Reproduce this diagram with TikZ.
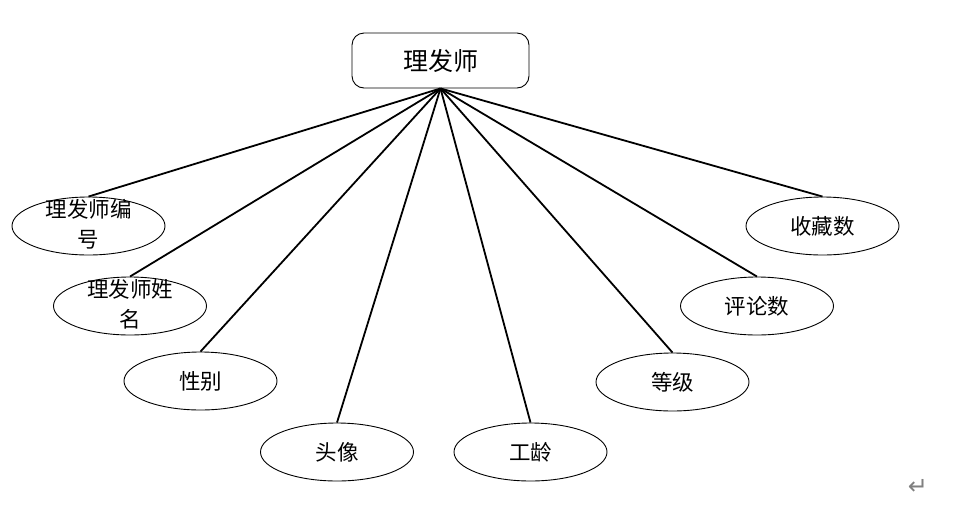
\documentclass[tikz,border=0pt]{standalone}
\usepackage{fontspec}
\newfontfamily\cjk{Noto Sans CJK SC}[Scale=1]
\newfontfamily\symb{DejaVu Sans}
\usetikzlibrary{shapes.geometric}

\begin{document}
\begin{tikzpicture}[x=1pt,y=-1pt,
		ent/.style={draw,rounded corners=12pt,line width=0.9pt,minimum width=177pt,minimum height=55pt,inner sep=0pt,
			font=\cjk\fontsize{25}{30}\selectfont},
		attr/.style={ellipse,draw,line width=0.9pt,minimum width=153pt,minimum height=58pt,inner sep=0pt,
			font=\cjk\fontsize{21.5}{28}\selectfont},
		two/.style={label={[font=\cjk\fontsize{21.5}{30}\selectfont,align=center,yshift=2pt]center:#1}},
		link/.style={line width=1.8pt}]
	\useasboundingbox (0,0) rectangle (955,507);
	%% define entity
	\node (brb) at (440.5,60.5) [ent] {理发师};
	%% define attributes
	\node (bh) at (88.5,226) [attr,two={理发师编\\号}] {};
	\node (xm) at (130,306) [attr,two={理发师姓\\名}] {};
	\node (xb) at (200.5,381) [attr] {性别};
	\node (tx) at (337,452) [attr] {头像};
	\node (gl) at (530.5,452) [attr] {工龄};
	\node (dj) at (672.5,382) [attr] {等级};
	\node (pl) at (757,306) [attr] {评论数};
	\node (sc) at (822.5,226) [attr] {收藏数};
	%% paragraph mark
	\node (pm) at (918,487) [text=black!50,font=\symb\fontsize{24}{24}\selectfont] {↵};
	%% define links
	\draw[link] (brb.south) -- (bh.north);
	\draw[link] (brb.south) -- (xm.north);
	\draw[link] (brb.south) -- (xb.north);
	\draw[link] (brb.south) -- (tx.north);
	\draw[link] (brb.south) -- (gl.north);
	\draw[link] (brb.south) -- (dj.north);
	\draw[link] (brb.south) -- (pl.north);
	\draw[link] (brb.south) -- (sc.north);
\end{tikzpicture}
\end{document}
